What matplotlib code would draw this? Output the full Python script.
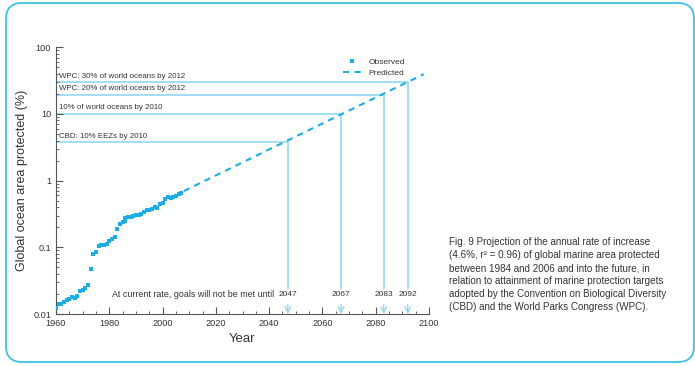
import matplotlib
matplotlib.use('Agg')
import matplotlib.pyplot as plt
from matplotlib.patches import FancyBboxPatch
from matplotlib.ticker import MultipleLocator, FixedLocator, FixedFormatter, LogLocator, NullFormatter
from matplotlib.transforms import IdentityTransform

plt.rcParams['font.family'] = ['Liberation Sans', 'DejaVu Sans']

# observed share of ocean protected (%)
obs_years = [1960, 1961, 1962, 1963, 1964, 1965, 1966, 1967, 1968, 1969,
             1970, 1971, 1972, 1973, 1974, 1975, 1976, 1977, 1978, 1979,
             1980, 1981, 1982, 1983, 1984, 1985, 1986, 1986, 1987, 1988, 1989,
             1990, 1991, 1992, 1993, 1994, 1995, 1996, 1997, 1998, 1999,
             2000, 2001, 2002, 2003, 2004, 2005, 2006, 2007]
obs_values = [0.0123, 0.0143, 0.0143, 0.0149, 0.0162, 0.0168, 0.0178, 0.0176, 0.0188, 0.0221,
              0.0226, 0.0245, 0.0269, 0.048, 0.079, 0.086, 0.103, 0.109, 0.110, 0.111,
              0.123, 0.135, 0.143, 0.188, 0.226, 0.237, 0.25, 0.275, 0.285, 0.285, 0.29,
              0.31, 0.31, 0.32, 0.34, 0.36, 0.36, 0.37, 0.40, 0.39, 0.44,
              0.47, 0.53, 0.57, 0.55, 0.56, 0.59, 0.62, 0.65]

# predicted trend (straight line on log scale), end points
pred_years = [2008, 2098]
pred_values = [0.70, 39.5]

# targets
target_labels = ['CBD: 10% EEZs by 2010', '10% of world oceans by 2010',
                 'WPC: 20% of world oceans by 2012', 'WPC: 30% of world oceans by 2012']
target_values = [3.75, 10.0, 19.3, 29.9]
target_years = [2047, 2067, 2083, 2092]

caption = ('Fig. 9 Projection of the annual rate of increase\n'
           '(4.6%, r\u00b2 = 0.96) of global marine area protected\n'
           'between 1984 and 2006 and into the future, in\n'
           'relation to attainment of marine protection targets\n'
           'adopted by the Convention on Biological Diversity\n'
           '(CBD) and the World Parks Congress (WPC).')

BLUE = '#1badea'
LIGHT = '#92d8f2'
TXT = '#333333'

fig = plt.figure(figsize=(6.95, 3.66), dpi=100)
ax = fig.add_axes([56/695, 1-314/366, 373/695, 266.7/366])

# outer rounded frame
frame = FancyBboxPatch((6, 4), 688, 359, boxstyle='round,pad=0,rounding_size=16',
                       transform=IdentityTransform(), fill=False, edgecolor='#3cc2ec', lw=1.3)
fig.patches.append(frame)

ybase = 0.0246
for lab, v, yr in zip(target_labels, target_values, target_years):
    ax.plot([1960, yr, yr], [v, v, ybase], color=LIGHT, lw=1.2, zorder=1)
    ax.text(1961.3, v * 1.09, lab, fontsize=5.7, color=TXT, va='bottom', ha='left')
    ax.text(yr, 0.0195, str(yr), fontsize=6.0, color=TXT, ha='center', va='center')
    ax.annotate('', xy=(yr, 0.0), xytext=(yr, 0.035),
                xycoords=ax.get_xaxis_transform(),
                arrowprops=dict(arrowstyle='->', color=LIGHT, lw=1.0, shrinkA=0, shrinkB=0))

ax.text(1981, 0.0195, 'At current rate, goals will not be met until', fontsize=6.4,
        color=TXT, ha='left', va='center')

ax.plot(obs_years, obs_values, linestyle='none', marker='s', ms=2.4, mew=0, color=BLUE,
        label='Observed', zorder=3)
ax.plot(pred_years, pred_values, linestyle=(0, (3, 2.5)), lw=1.5, color=BLUE,
        label='Predicted', zorder=3)

ax.set_yscale('log')
ax.set_xlim(1960, 2100)
ax.set_ylim(0.01, 100)
ax.yaxis.set_major_locator(FixedLocator([0.01, 0.1, 1, 10, 100]))
ax.yaxis.set_major_formatter(FixedFormatter(['0.01', '0.1', '1', '10', '100']))
ax.yaxis.set_minor_locator(LogLocator(base=10, subs=range(2, 10)))
ax.yaxis.set_minor_formatter(NullFormatter())
ax.xaxis.set_major_locator(MultipleLocator(20))
ax.xaxis.set_minor_locator(MultipleLocator(5))

for s in ['top', 'right']:
    ax.spines[s].set_visible(False)
for s in ['left', 'bottom']:
    ax.spines[s].set_color('#555555')
    ax.spines[s].set_linewidth(0.8)
ax.tick_params(which='both', direction='in', colors='#555555', labelcolor=TXT, labelsize=6.6)
ax.tick_params(which='major', length=5, width=0.8)
ax.tick_params(which='minor', length=2.5, width=0.6)

ax.set_xlabel('Year', fontsize=9.5, color=TXT, labelpad=4)
ax.set_ylabel('Global ocean area protected (%)', fontsize=9, color=TXT)
ax.yaxis.set_label_coords(-0.075, 0.5)

leg = ax.legend(loc='upper right', bbox_to_anchor=(0.944, 0.972), frameon=False,
                fontsize=6.0, numpoints=1, handlelength=2.2, handletextpad=0.8,
                labelspacing=0.35, borderaxespad=0)
for t in leg.get_texts():
    t.set_color(TXT)

fig.text(449/695, 1-237/366, caption, fontsize=7.1, color=TXT, ha='left', va='top',
         linespacing=1.38)

fig.savefig('out.png', dpi=100)
